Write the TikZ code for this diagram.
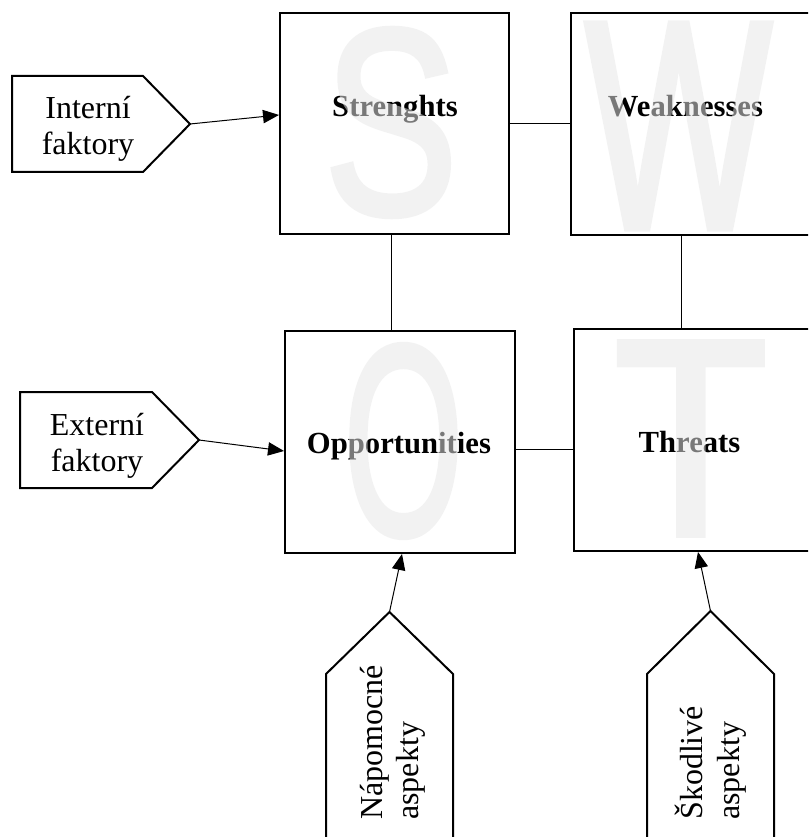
\documentclass[tikz,border=0pt]{standalone}
\usepackage{fontspec}
\usepackage{graphicx}
\setmainfont{Liberation Serif}
\newfontfamily\wmfont[FakeBold=2.5]{Liberation Sans}
\usetikzlibrary{arrows.meta}
\definecolor{wmgray}{RGB}{231,231,231}
\begin{document}
\begin{tikzpicture}[x=0.75pt,y=-0.75pt,
  box/.style={draw=black, line width=1.5pt, inner sep=0pt},
  title/.style={font=\bfseries\fontsize{23pt}{27pt}\selectfont, anchor=base, inner sep=0pt},
  lbl/.style={font=\fontsize{24pt}{27pt}\selectfont, align=center, inner sep=0pt},
  vlbl/.style={font=\fontsize{24pt}{27pt}\selectfont, rotate=90, anchor=base west, inner sep=0pt},
  wm/.style={font=\wmfont\fontsize{100pt}{100pt}\selectfont, text=wmgray, inner sep=0pt},
  tag/.style={draw=black, line width=1.5pt, line join=miter},
  link/.style={draw=black, line width=0.75pt},
  arr/.style={link, -{Triangle[length=12pt,width=10pt]}}]

\useasboundingbox (0,0) rectangle (808,837);
\clip (0,0) rectangle (808,837);

% quadrant titles
\node[title] (stxt) at (395,117) {Strenghts};
\node[title] (wtxt) at (685.5,117) {Weaknesses};
\node[title] (otxt) at (399,453) {Opportunities};
\node[title] (ttxt) at (689.5,452) {Threats};

% large translucent initials laid over the titles
\begin{scope}[transparency group, opacity=0.52]
\node[wm] (wS) at (391,122.5) {\scalebox{1.50}[1.98]{S}};
\node[wm] (wW) at (678.5,126) {\scalebox{1.48}[2.22]{W}};
\node[wm] (wO) at (403.5,441) {\scalebox{1.15}[2.03]{O}};
\node[wm] (wT) at (691,438.5) {\scalebox{1.88}[2.09]{T}};
\end{scope}

% quadrant frames
\node[box, minimum width=171.75pt, minimum height=165.75pt] (S) at (394.5,123.5) {};
\node[box, minimum width=194.25pt, minimum height=166.5pt] (W) at (700.5,124) {};
\node[box, minimum width=172.5pt, minimum height=166.5pt] (O) at (400,442) {};
\node[box, minimum width=192pt, minimum height=166.5pt] (T) at (702,440) {};

% links between quadrants
\draw[link] (S.east) -- (S.east -| W.west);
\draw[link] ([xshift=-2.25pt]S.south) -- ([xshift=-2.25pt]S.south |- O.north);
\draw[link] ([xshift=-14.6pt]W.south) -- ([xshift=-14.6pt]W.south |- T.north);
\draw[link] ([yshift=-5.25pt]O.east) -- ([yshift=-5.25pt]O.east -| T.west);

% side tags
\draw[tag] (12,76) -- (143,76) -- (190,124) -- (143,172) -- (12,172) -- cycle;
\coordinate (inTip) at (190,124);
\node[lbl] (inLbl) at (88,128.5) {Interní\\faktory};
\draw[arr] (inTip) -- ([yshift=6.4pt]S.west);

\draw[tag] (20,392) -- (152,392) -- (199,440) -- (152,488) -- (20,488) -- cycle;
\coordinate (exTip) at (199,440);
\node[lbl] (exLbl) at (97,446) {Externí\\faktory};
\draw[arr] (exTip) -- ([yshift=-6.75pt]O.west);

% bottom tags
\draw[tag] (326,850) -- (326,674) -- (389.5,612) -- (453,674) -- (453,850);
\coordinate (napTip) at (389.5,612);
\node[vlbl] (nap1) at (382,820) {Nápomocné};
\node[vlbl] (nap2) at (418.5,820) {aspekty};
\draw[arr] (napTip) -- ([xshift=1.5pt]O.south);

\draw[tag] (647,850) -- (647,674) -- (710.5,611) -- (774,674) -- (774,850);
\coordinate (skTip) at (710.5,611);
\node[vlbl] (sk1) at (702,820) {Škodlivé};
\node[vlbl] (sk2) at (739,820) {aspekty};
\draw[arr] (skTip) -- ([xshift=-3pt]T.south);
\end{tikzpicture}
\end{document}
